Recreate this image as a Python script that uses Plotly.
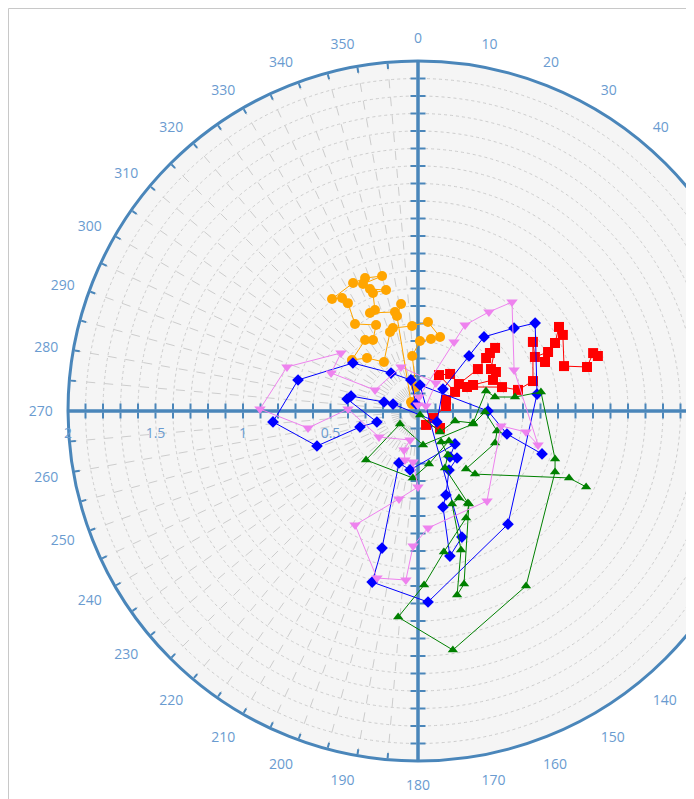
import plotly.graph_objects as go

# ---------------- data (r, theta in degrees, clockwise from north) ----------------
orange_r = [0.053, 0.138, 0.316, 0.40, 0.418, 0.441, 0.512, 0.487, 0.495, 0.479, 0.341, 0.42,
            0.477, 0.506, 0.48, 0.547, 0.614, 0.735, 0.778, 0.807, 0.82, 0.818, 0.798, 0.791,
            0.749, 0.715, 0.722, 0.627, 0.624, 0.581, 0.619, 0.556, 0.065]
orange_theta = [319, 355, 354, 1.6, 10.2, 16.6, 6.4, 356, 343.2, 340.5, 325.2, 316.1,
                307.7, 323.3, 327.6, 334, 324.1, 327, 326.1, 322.5, 333.1, 338.3, 345.1, 336.6,
                338.5, 345.2, 339.1, 336.9, 333.9, 346.9, 351, 347.5, 322]

red_r = [0.092, 0.159, 0.095, 0.162, 0.172, 0.238, 0.238, 0.28, 0.28, 0.418, 0.493, 0.528,
         0.569, 0.481, 0.498, 0.464, 0.348, 0.312, 0.499, 0.584, 0.679, 0.766, 0.736, 0.816,
         0.778, 0.874, 0.938, 0.935, 0.873, 0.998, 1.054, 1.075]
red_theta = [150, 127.7, 115, 79.9, 68.6, 62.8, 30.3, 40.9, 56.6, 55, 52.1, 51.1,
             50.7, 60.1, 63.4, 67.5, 64.7, 63.9, 74.1, 78.1, 75.4, 59, 65.2, 65.6,
             68.9, 63.6, 59.2, 62.3, 72.9, 75.4, 71.7, 73]

blue_r = [0.042, 0.182, 0.266, 0.462, 0.708, 0.831, 0.611, 0.344, 0.243, 0.411, 0.392, 0.201,
          0.148, 0.125, 0.19, 0.429, 0.567, 0.725, 0.837, 0.687, 0.826, 1.093, 1.012, 0.81,
          0.316, 0.34, 0.283, 0.32, 0.349, 0.381, 0.506, 0.567, 0.849, 0.763, 0.149, 0.40,
          0.525, 0.75]
blue_theta = [344, 347, 324.6, 306.4, 284.5, 265.7, 250.9, 254.6, 255, 279.6, 282.6, 284.8,
              285.6, 120.1, 48.7, 42.8, 41.7, 49.2, 53.1, 81.9, 141.5, 177, 195, 194.7,
              200.1, 187.7, 131.7, 145.2, 140.3, 152.3, 161.6, 165.4, 167.6, 160.8, 4.4, 90,
              104.5, 109.1]

green_r = [0.026, 0.174, 0.219, 0.322, 0.405, 0.447, 0.56, 0.711, 0.83, 0.857, 1.175, 1.38,
           1.183, 0.995, 0.819, 0.67, 0.606, 1.023, 1.075, 0.831, 0.566, 0.55, 0.598, 0.36,
           0.304, 0.221, 0.246, 0.309, 0.384, 0.408, 0.127, 0.196, 0.323, 0.383, 0.466, 0.477,
           0.43, 0.486, 0.944, 1.054]
green_theta = [153, 133.7, 105.1, 102.3, 73.6, 79.7, 81.8, 81.2, 109.3, 114, 148.3, 171.7,
               185.5, 178, 169.6, 155.8, 151.3, 165.1, 168, 162.8, 159.9, 154.8, 151.5, 154.7,
               145.7, 143.4, 134.1, 168.3, 184.3, 226.7, 234.2, 171.6, 103.3, 90.9, 104.2, 112.6,
               140.4, 137.9, 113.9, 114.3]

violet_r = [0.034, 0.054, 0.19, 0.27, 0.273, 0.542, 0.551, 0.79, 0.903, 0.636, 0.40, 0.268,
            0.172, 0.237, 0.29, 0.293, 0.434, 0.514, 0.744, 0.983, 0.968, 0.772, 0.671, 0.648,
            0.482, 0.629, 0.713, 0.597, 0.822, 0.696, 0.56, 0.445, 0.08]
violet_theta = [0, 58, 32.7, 338.9, 296, 293.6, 307, 288.6, 270.7, 261.2, 271.6, 236.3,
                195.4, 199.7, 194.9, 185.6, 180, 192.2, 208.9, 193.8, 184.1, 182.1, 175.1, 142.5,
                100.2, 101, 105.8, 66.9, 40.8, 35.6, 28.7, 27.6, 4]

angular_ticks = list(range(0, 360, 5))
# labels every 10 degrees; those in 50..130 fall outside the visible (clipped) frame
angular_labels = [str(v) if (v % 10 == 0 and not (50 <= v <= 130)) else "" for v in angular_ticks]
radial_ticks = [round(0.1 * i, 1) for i in range(1, 21)]
radial_labels = [("%g" % v) if abs(v * 2 - round(v * 2)) < 1e-9 else "" for v in radial_ticks]

# ---------------- styling ----------------
AX = "#4A86BA"
LBL = "#6A9BD0"
GRID = "#cdcdcd"
FONT = "Open Sans"

W, H = 830, 830
CX, CY, RAD = 410, 403, 350
dom = dict(x=[(CX - RAD) / W, (CX + RAD) / W], y=[(H - CY - RAD) / H, (H - CY + RAD) / H])

fig = go.Figure()

# empty traces so that every overlay polar subplot is drawn
for i in range(1, 9):
    fig.add_trace(go.Scatterpolar(r=[], theta=[], mode="markers",
                                  subplot="polar" if i == 1 else "polar%d" % i,
                                  showlegend=False, hoverinfo="skip"))

series = [
    (orange_r, orange_theta, "#FFA500", "circle", 10),
    (red_r, red_theta, "#FF0000", "square", 10),
    (blue_r, blue_theta, "#0000FF", "diamond", 9),
    (green_r, green_theta, "#008000", "triangle-up", 9),
    (violet_r, violet_theta, "#EE82EE", "triangle-down", 10),
]
for r, th, col, sym, sz in series:
    fig.add_trace(go.Scatterpolar(
        r=r, theta=th, mode="lines+markers", subplot="polar9",
        line=dict(color=col, width=1),
        marker=dict(symbol=sym, size=sz, color=col, line=dict(width=0)),
        showlegend=False, hoverinfo="skip"))

layout = dict(
    width=W, height=H, margin=dict(l=0, r=0, t=0, b=0),
    paper_bgcolor="white", showlegend=False,
    font=dict(family=FONT, size=14, color=LBL),
)

# full circle, sector started at 180 so the left-pointing radial labels stay upright
layout["polar"] = dict(
    domain=dom, bgcolor="#f5f5f5", sector=[180, 540],
    angularaxis=dict(rotation=90, direction="clockwise", tickmode="array",
                     tickvals=angular_ticks, showticklabels=False,
                     ticks="inside", ticklen=5, tickwidth=2, tickcolor=AX,
                     showline=True, linecolor=AX, linewidth=3,
                     showgrid=True, gridcolor=GRID, gridwidth=1, griddash="dash"),
    radialaxis=dict(range=[0, 2], angle=180, side="counterclockwise",
                    tickmode="array", tickvals=radial_ticks, ticktext=radial_labels,
                    ticks="outside", ticklen=6, tickwidth=2, tickcolor=AX,
                    showline=True, linecolor=AX, linewidth=3,
                    showgrid=True, gridcolor=GRID, gridwidth=1, griddash="dot",
                    tickfont=dict(family=FONT, size=14, color=LBL)),
)

overlays = [(180, "clockwise"), (0, "clockwise"), (0, "counterclockwise"),
            (90, "clockwise"), (90, "counterclockwise"),
            (-90, "clockwise"), (-90, "counterclockwise")]
for i, (ang, side) in enumerate(overlays, start=2):
    layout["polar%d" % i] = dict(
        domain=dom, bgcolor="rgba(0,0,0,0)",
        angularaxis=dict(visible=False, rotation=90, direction="clockwise"),
        radialaxis=dict(range=[0, 2], angle=ang, side=side, tickmode="array",
                        tickvals=radial_ticks, showticklabels=False,
                        ticks="outside", ticklen=6, tickwidth=2, tickcolor=AX,
                        showline=True, linecolor=AX, linewidth=3, showgrid=False),
    )

# angular tick labels, pushed a little further out from the rim
layout["polar2"]["angularaxis"] = dict(
    visible=True, rotation=90, direction="clockwise", tickmode="array",
    tickvals=angular_ticks, ticktext=angular_labels,
    ticks="outside", ticklen=12, tickcolor="rgba(0,0,0,0)",
    showline=False, showgrid=False,
    tickfont=dict(family=FONT, size=14, color=LBL))

layout["polar9"] = dict(
    domain=dom, bgcolor="rgba(0,0,0,0)",
    angularaxis=dict(visible=False, rotation=90, direction="clockwise"),
    radialaxis=dict(visible=False, range=[0, 2]),
)

layout["shapes"] = [
    dict(type="rect", xref="paper", yref="paper", x0=680.5 / W, x1=1, y0=0, y1=1,
         fillcolor="white", line=dict(width=0), layer="above"),
    dict(type="rect", xref="paper", yref="paper", x0=0.5 / W, x1=680.5 / W,
         y0=-0.05, y1=1 - 0.5 / H, fillcolor="rgba(0,0,0,0)",
         line=dict(color="#c8c8c8", width=1), layer="above"),
]

fig.update_layout(**layout)
fig.write_html("out.html")
